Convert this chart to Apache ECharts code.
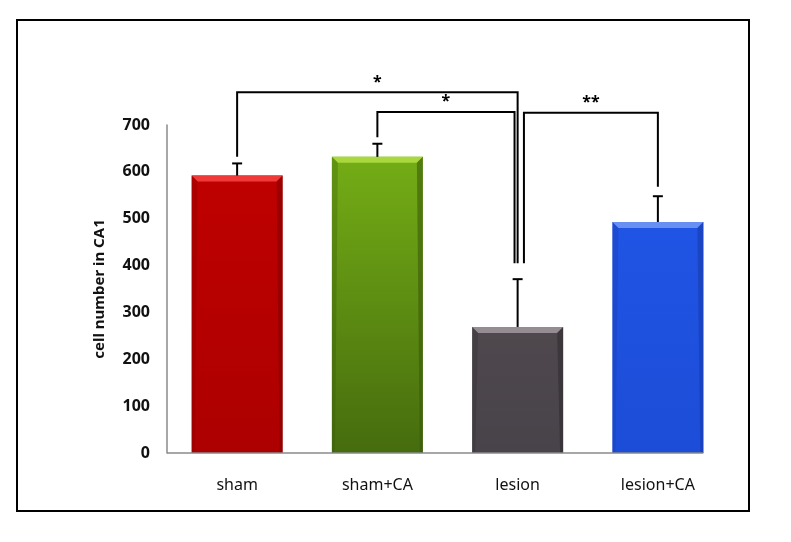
<!DOCTYPE html>
<html>
<head>
<meta charset="utf-8">
<script src="https://cdn.jsdelivr.net/npm/echarts@6/dist/echarts.min.js"></script>
<style>
  html, body { margin: 0; padding: 0; background: #fff; }
  #chart { width: 791px; height: 542px; }
</style>
</head>
<body>
<div id="chart"></div>
<script>
// data
const categories = ['sham', 'sham+CA', 'lesion', 'lesion+CA']
const cellCounts = [592, 632, 269, 493]
const errors = [26, 28, 102, 55]
const yTicks = [0, 100, 200, 300, 400, 500, 600, 700]

// significance brackets (category index + value on the y scale)
const bracketFrom = [0, 1, 2]
const bracketTo = [2, 2, 3]
const bracketTop = [770, 728, 726]
const bracketFromEnd = [632, 674, 405]
const bracketToEnd = [405, 405, 568]
const bracketLabels = ['*', '*', '**']

// look
const faceTop = ['#bf0000', '#74ad16', '#4f494e', '#2054e4']
const faceBottom = ['#ad0000', '#466c0e', '#48424a', '#1c4dd8']
const bevelLight = ['#f03a3a', '#a8d83e', '#958b93', '#6890f2']
const bevelDark = ['#800000', '#36560b', '#2e2a2e', '#1738a8']
const bracketShift = [[0, 0], [0, -0.022], [0.045, 0]]
const barW = 91
const font = 'Noto Sans, Open Sans, sans-serif'

const chart = echarts.init(document.getElementById('chart'))

const option = {
  backgroundColor: '#fff',
  animation: false,
  grid: { left: 167, right: 63, top: 125, bottom: 89, containLabel: false, outerBoundsMode: 'none' },
  xAxis: {
    type: 'category',
    data: categories,
    axisLine: { show: false },
    axisTick: { show: false },
    axisLabel: { color: '#111', fontFamily: font, fontSize: 16, margin: 24 }
  },
  yAxis: {
    type: 'value',
    min: 0,
    max: yTicks[yTicks.length - 1],
    interval: 100,
    name: 'cell number in CA1',
    nameLocation: 'middle',
    nameRotate: 90,
    nameGap: 60,
    nameTextStyle: { color: '#111', fontFamily: font, fontSize: 15, fontWeight: 'bold' },
    axisLine: { show: true, lineStyle: { color: '#8a8a8a', width: 1.5 } },
    axisTick: { show: false },
    splitLine: { show: false },
    axisLabel: { color: '#111', fontFamily: font, fontSize: 16, fontWeight: 'bold', margin: 17 }
  },
  series: [
    {
      type: 'bar',
      barWidth: barW,
      data: cellCounts.map((v, i) => ({
        value: v,
        itemStyle: {
          color: new echarts.graphic.LinearGradient(0, 0, 0, 1, [
            { offset: 0, color: faceTop[i] },
            { offset: 1, color: faceBottom[i] }
          ])
        }
      })),
      z: 2
    },
    {
      // bevel edges over the bars
      type: 'custom',
      data: cellCounts.map((v, i) => [i, v]),
      z: 3,
      renderItem: function (params, api) {
        const i = params.dataIndex
        const top = api.coord([api.value(0), api.value(1)])
        const base = api.coord([api.value(0), 0])
        const x0 = top[0] - barW / 2, x1 = top[0] + barW / 2
        const y0 = top[1], y1 = base[1]
        const b = 6
        return {
          type: 'group',
          children: [
            { type: 'polygon', shape: { points: [[x0, y0], [x1, y0], [x1 - b, y0 + b], [x0 + b, y0 + b]] }, style: { fill: bevelLight[i] } },
            { type: 'polygon', shape: { points: [[x1, y0], [x1, y1], [x1 - 3, y1], [x1 - b, y0 + b]] }, style: { fill: bevelDark[i], opacity: 0.55 } },
            { type: 'polygon', shape: { points: [[x0, y0], [x0 + b, y0 + b], [x0 + 3, y1], [x0, y1]] }, style: { fill: bevelDark[i], opacity: 0.3 } }
          ]
        }
      }
    },
    {
      // upward error bars
      type: 'custom',
      data: cellCounts.map((v, i) => [i, v, errors[i]]),
      z: 4,
      renderItem: function (params, api) {
        const a = api.coord([api.value(0), api.value(1)])
        const t = api.coord([api.value(0), api.value(1) + api.value(2)])
        const st = { stroke: '#000', lineWidth: 2 }
        return {
          type: 'group',
          children: [
            { type: 'line', shape: { x1: a[0], y1: a[1], x2: t[0], y2: t[1] }, style: st },
            { type: 'line', shape: { x1: t[0] - 5, y1: t[1], x2: t[0] + 5, y2: t[1] }, style: st }
          ]
        }
      }
    },
    {
      // significance brackets
      type: 'custom',
      clip: false,
      data: bracketFrom.map((f, k) => [f, bracketTop[k], bracketTo[k], bracketFromEnd[k], bracketToEnd[k]]),
      z: 5,
      renderItem: function (params, api) {
        const k = params.dataIndex
        const band = api.size([1, 0])[0]
        const xa = api.coord([api.value(0), 0])[0] + bracketShift[k][0] * band
        const xb = api.coord([api.value(2), 0])[0] + bracketShift[k][1] * band
        const yTop = api.coord([0, api.value(1)])[1]
        const ya = api.coord([0, api.value(3)])[1]
        const yb = api.coord([0, api.value(4)])[1]
        return {
          type: 'group',
          children: [
            { type: 'polyline', shape: { points: [[xa, ya], [xa, yTop], [xb, yTop], [xb, yb]] }, style: { stroke: '#000', lineWidth: 2, fill: null } },
            { type: 'text', style: { text: bracketLabels[k], x: (xa + xb) / 2, y: yTop - 2, align: 'center', verticalAlign: 'bottom', fill: '#000', font: 'bold 16px ' + font } }
          ]
        }
      }
    }
  ]
}

chart.setOption(option)

// baseline from the y axis to the right edge of the last bar, and the frame
const lastRight = chart.convertToPixel({ xAxisIndex: 0 }, categories.length - 1) + barW / 2
const y0px = chart.convertToPixel({ yAxisIndex: 0 }, 0)
chart.setOption({
  graphic: [
    { type: 'line', shape: { x1: 167, y1: y0px, x2: lastRight, y2: y0px }, style: { stroke: '#8a8a8a', lineWidth: 1.5 }, z: 10 },
    { type: 'rect', shape: { x: 17, y: 20, width: 732, height: 491 }, style: { stroke: '#000', lineWidth: 2, fill: null }, z: 10 }
  ]
})
</script>
</body>
</html>
